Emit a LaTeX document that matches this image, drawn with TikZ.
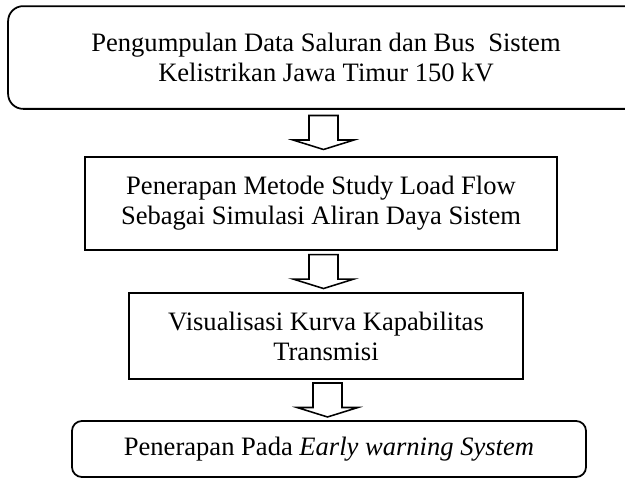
\documentclass[tikz,border=0pt]{standalone}
\usepackage{fontspec}
\setmainfont{Liberation Serif}
\usetikzlibrary{calc}
\tikzset{
    flow-box/.style = {draw, line width=0.8pt, rectangle, align=center, inner sep=0pt, font=\fontsize{12pt}{13.5pt}\selectfont},
    flow-rounded/.style = {flow-box, rounded corners=6.8pt},
    down-arrow/.pic = {\draw[line width=0.7pt, fill=white] (-14.5,-17) -- (14.5,-17) -- (14.5,7.5) -- (30.5,7.5) -- (0,17) -- (-30.5,7.5) -- (-14.5,7.5) -- cycle;},
}

\begin{document}
\begin{tikzpicture}[x=0.4517pt, y=-0.4517pt]
\useasboundingbox (0,0) rectangle (625,479);
% the four steps
\node[flow-box, draw=none, minimum width=286.4pt, minimum height=45.6pt] (data) at (326,57.5) {Pengumpulan Data Saluran dan Bus\ \ Sistem\\Kelistrikan Jawa Timur 150 kV};
\draw[line width=0.8pt, rounded corners=6.8pt] (data.north west) rectangle ($(data.south east)+(60,0)$); % runs off the page
\node[flow-box, minimum width=213.2pt, minimum height=42pt] (loadflow) at (321,203.5) {Penerapan Metode Study Load Flow\\Sebagai Simulasi Aliran Daya Sistem};
\node[flow-box, minimum width=178pt, minimum height=38.8pt] (kurva) at (326,336) {Visualisasi Kurva Kapabilitas\\Transmisi};
\node[flow-rounded, rounded corners=4.5pt, minimum width=232.2pt, minimum height=25.3pt] (ews) at (329,449) {Penerapan Pada \textit{Early warning System}};
% hollow arrows between the steps
\pic at ($(data.south)!0.5!(loadflow.north)$) {down-arrow};
\pic at ($(loadflow.south)!0.5!(kurva.north)$) {down-arrow};
\pic at ($(kurva.south)!0.5!(ews.north)$) {down-arrow};
\end{tikzpicture}
\end{document}
